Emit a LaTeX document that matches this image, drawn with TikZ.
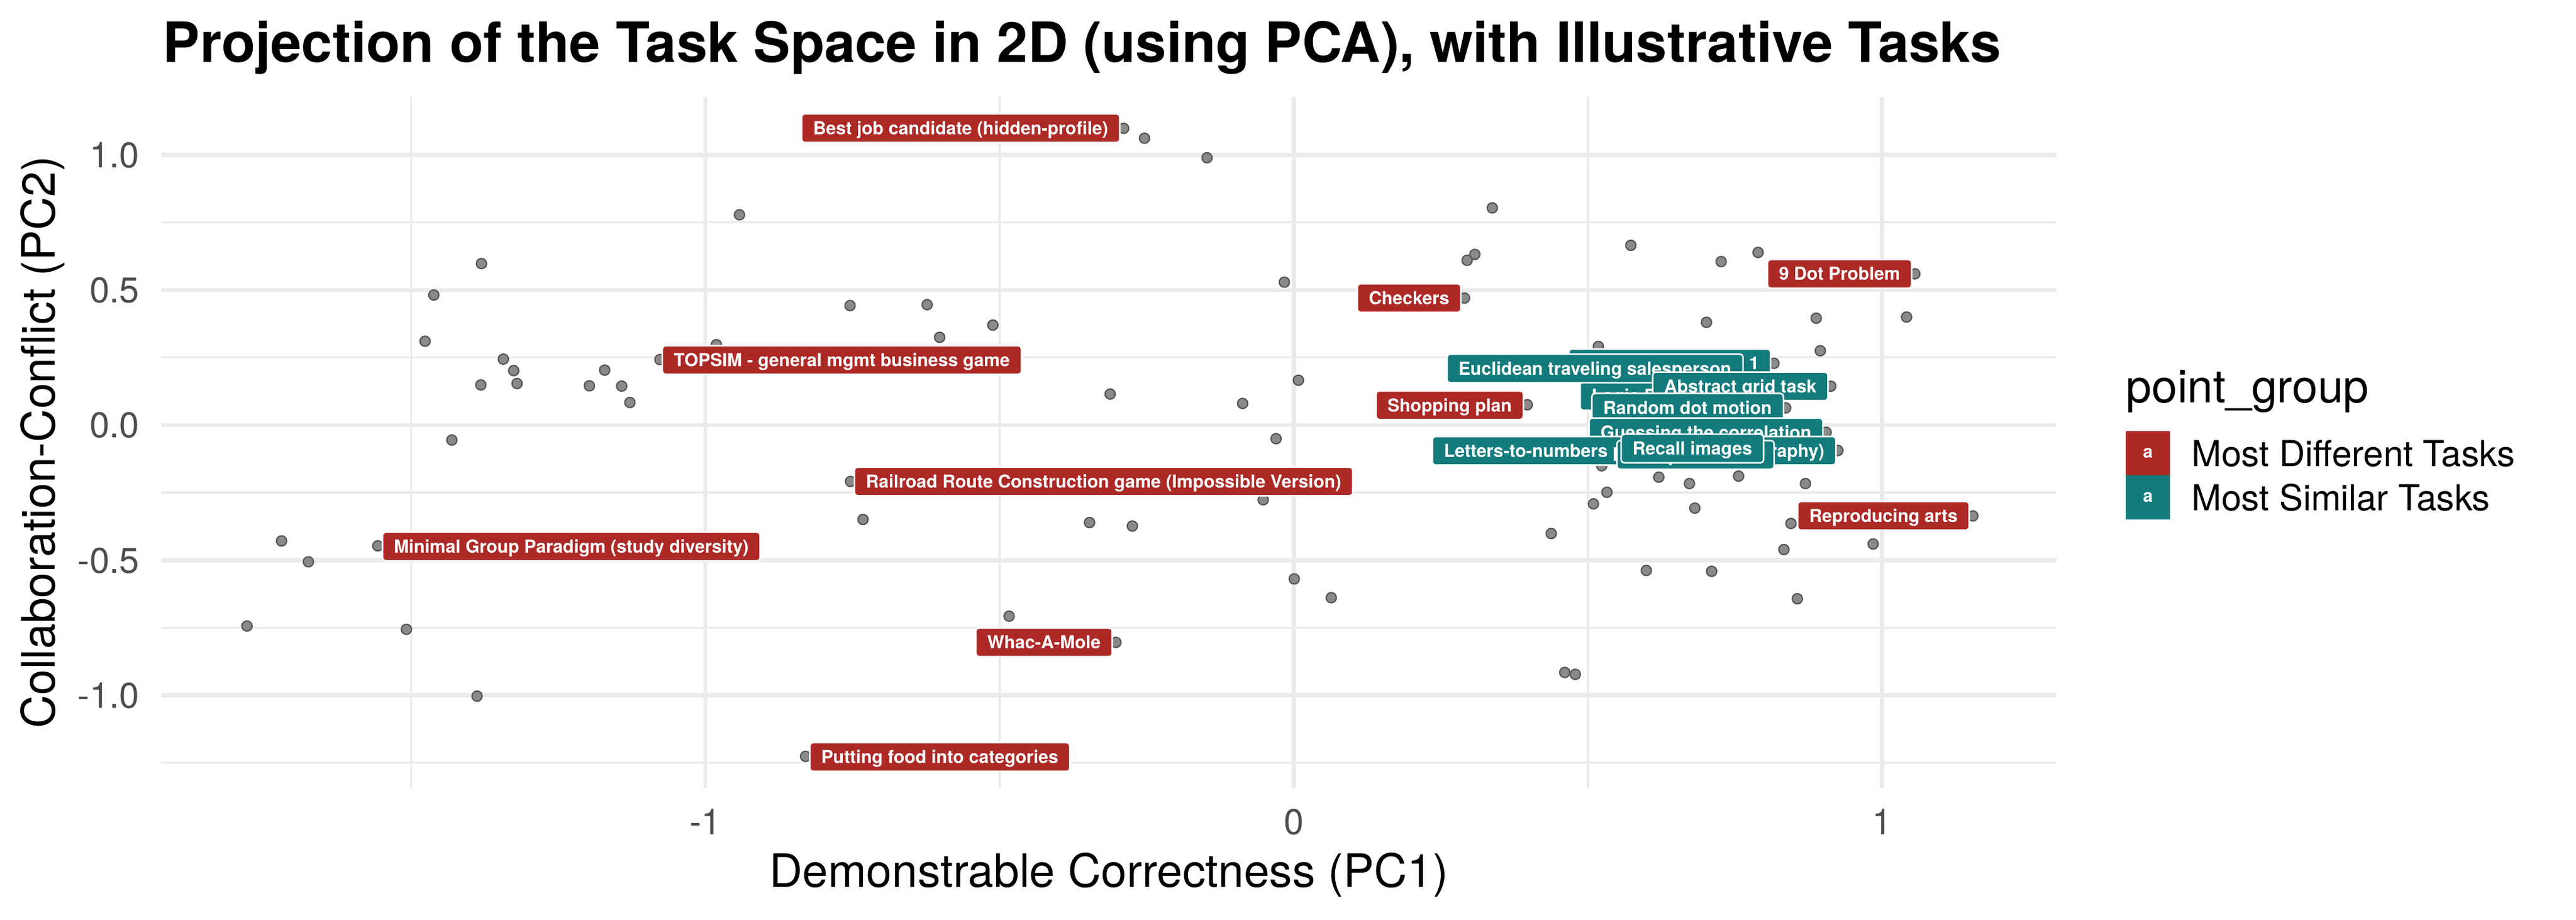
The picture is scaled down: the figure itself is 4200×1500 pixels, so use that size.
\documentclass[tikz,border=0pt]{standalone}
\usepackage{fontspec}
\setmainfont{TeX Gyre Heros}
\definecolor{redlab}{RGB}{173,41,38}
\definecolor{teallab}{RGB}{20,123,125}
\definecolor{gridc}{RGB}{235,235,235}
\definecolor{ptfill}{RGB}{138,138,138}
\definecolor{ptdraw}{RGB}{85,85,85}
\definecolor{tickc}{RGB}{77,77,77}
\begin{document}
\begin{tikzpicture}[x=0.24pt,y=-0.24pt,
  majorgrid/.style={draw=gridc,line width=1.55pt},
  minorgrid/.style={draw=gridc,line width=0.8pt},
  datapt/.style={circle,fill=ptfill,draw=ptdraw,line width=0.5pt,inner sep=0pt,minimum size=4pt},
  lab/.style={rounded corners=1.2pt,draw=white,line width=0.6pt,text=white,
    font=\bfseries\fontsize{7}{8}\selectfont,inner xsep=4.5pt,inner ysep=0pt,
    minimum height=11.2pt,text height=5pt,text depth=0pt},
  redl/.style={lab,fill=redlab},
  teall/.style={lab,fill=teallab},
  ytick/.style={anchor=base east,text=tickc,font=\fontsize{14}{16}\selectfont,inner sep=0pt},
  xtick/.style={anchor=base,text=tickc,font=\fontsize{14}{16}\selectfont,inner sep=0pt},
  axtitle/.style={anchor=base,font=\fontsize{18}{20}\selectfont,inner sep=0pt},
  keybox/.style={minimum size=17.2pt,inner sep=0pt,text=white,font=\bfseries\fontsize{6.9}{8}\selectfont},
  legtext/.style={anchor=base west,font=\fontsize{14}{16}\selectfont,inner sep=0pt}
]
\useasboundingbox (0,0) rectangle (4200,1500);

% grid
\foreach \gx in {670.6,1630,2589} \draw[minorgrid] (\gx,158) -- (\gx,1284.7);
\foreach \gy in {362.6,582.8,803.1,1023.5,1243.6} \draw[minorgrid] (263,\gy) -- (3353.4,\gy);
\foreach \gx in {1150,2109.5,3068.3} \draw[majorgrid] (\gx,158) -- (\gx,1284.7);
\foreach \gy in {252.5,472.8,692.9,913.3,1133.6} \draw[majorgrid] (263,\gy) -- (3353.4,\gy);

% points
\foreach \px/\py [count=\i] in {
1205.6/350.2, 785/429.8, 707.3/481, 1386/498.3, 693/556.4, 1168/562, 820.7/585.5,
1076/586.3, 837.6/604.3, 985.9/603.5, 784/627.6, 843/625.3, 960.9/629.1, 1013.6/629.5,
1027/656.3, 736.7/717.5, 1386.8/785, 1407.1/847, 459/882, 616/890, 502.8/916,
402.7/1020.7, 662.6/1026, 777.8/1135, 1313.4/1233.2, 1832/209.3, 1866/225.4,
1968/257.2, 2433/339, 2659/400, 2404.6/414.8, 2392/424.4, 2094/460, 2387.7/486,
1511.6/496.7, 1618.8/530, 1532/550, 2117/620, 1810/642.5, 2026/657.8, 2490/660,
2080.5/715.3, 2606/565, 2866.4/411.6, 2806.2/426.5, 3121.9/446.5, 2782.3/525.5,
2961.2/518.8, 3108.5/516.9, 2967.8/571.9, 2892.3/592.4, 2985/629.7, 2911.4/665.1,
2977.4/704.8, 2996.5/734.5, 2704.5/778, 2754.5/788.4, 2834.6/776.3, 2943.7/788.4,
2763.3/828.5, 2920/853.5, 3216.6/841.2, 2908.5/896, 3054/887, 2790.7/931.5,
2930.5/976.2, 2059.5/814.8, 1776.4/852, 1846.2/857.7, 2529.2/869.9, 2598/821.5,
2620/802.6, 2611.5/759.5, 2110.2/943.9, 2170.5/974.5, 2684.2/930.1, 1645.3/1004.6,
1819.4/1047.4, 2551.2/1096.4, 2568.4/1099.5}
  \node[datapt] (p\i) at (\px,\py) {};

% red labels
\node[redl,anchor=east] (best) at (1826.9,209) {Best job candidate (hidden-profile)};
\node[redl,anchor=east] (ninedot) at (3118,446.5) {9 Dot Problem};
\node[redl,anchor=east] (checkers) at (2383,486) {Checkers};
\node[redl,anchor=west] (topsim) at (1078.7,587) {TOPSIM - general mgmt business game};
\node[redl,anchor=east] (shopping) at (2485,660.7) {Shopping plan};
\node[redl,anchor=west] (railroad) at (1391.8,785) {Railroad Route Construction game (Impossible Version)};
\node[redl,anchor=east] (reproducing) at (3211.8,841) {Reproducing arts};
\node[redl,anchor=west] (minimal) at (622.4,891) {Minimal Group Paradigm (study diversity)};
\node[redl,anchor=east] (whac) at (1814.7,1047.2) {Whac-A-Mole};
\node[redl,anchor=west] (putting) at (1319,1234.2) {Putting food into categories};

% teal labels (drawing order matters)
\node[teall,anchor=east] (arith) at (2888,592.4) {Arithmetic problem 1};
\node[teall,anchor=west] (logic) at (2575,645.5) {Logic Problem};
\node[teall,anchor=west] (euclid) at (2358,600.7) {Euclidean traveling salesperson};
\node[teall,anchor=east] (abstract) at (2981.7,629.9) {Abstract grid task};
\node[teall,anchor=east] (randomdot) at (2909,664.7) {Random dot motion};
\node[teall,anchor=east] (guessing) at (2973.3,705) {Guessing the correlation};
\node[teall,anchor=west] (letters) at (2334.3,735) {Letters-to-numbers problems (cryptography)};
\node[teall,anchor=west] (maze) at (2635,741.7) {Computer maze};
\node[teall,anchor=east] (recall) at (2876.7,731.3) {Recall images};

% axes text
\foreach \gy/\lbl [count=\j] in {252.5/1.0,472.8/0.5,692.9/0.0,913.3/-0.5,1133.6/-1.0}
  \node[ytick] (yt\j) at (228,\gy+21) {\lbl};
\foreach \gx/\lbl [count=\j] in {1150/-1,2109.5/0,3068.3/1}
  \node[xtick] (xt\j) at (\gx,1361) {\lbl};
\node[axtitle] (xtitle) at (1808,1446.7) {Demonstrable Correctness (PC1)};
\node[axtitle,rotate=90] (ytitle) at (89.3,721) {Collaboration-Conflict (PC2)};

% title
\node[anchor=base west,font=\bfseries\fontsize{21.7}{24}\selectfont,inner sep=0pt] (title) at (265,101.7)
  {Projection of the Task Space in 2D (using PCA), with Illustrative Tasks};

% legend
\node[anchor=base west,font=\fontsize{18}{20}\selectfont,inner sep=0pt] (legtitle) at (3466,657) {point\_group};
\node[keybox,fill=redlab] (key1) at (3502,739.2) {a};
\node[keybox,fill=teallab] (key2) at (3502,811) {a};
\node[legtext] (leg1) at (3573,760.8) {Most Different Tasks};
\node[legtext] (leg2) at (3573,832.5) {Most Similar Tasks};
\end{tikzpicture}
\end{document}
